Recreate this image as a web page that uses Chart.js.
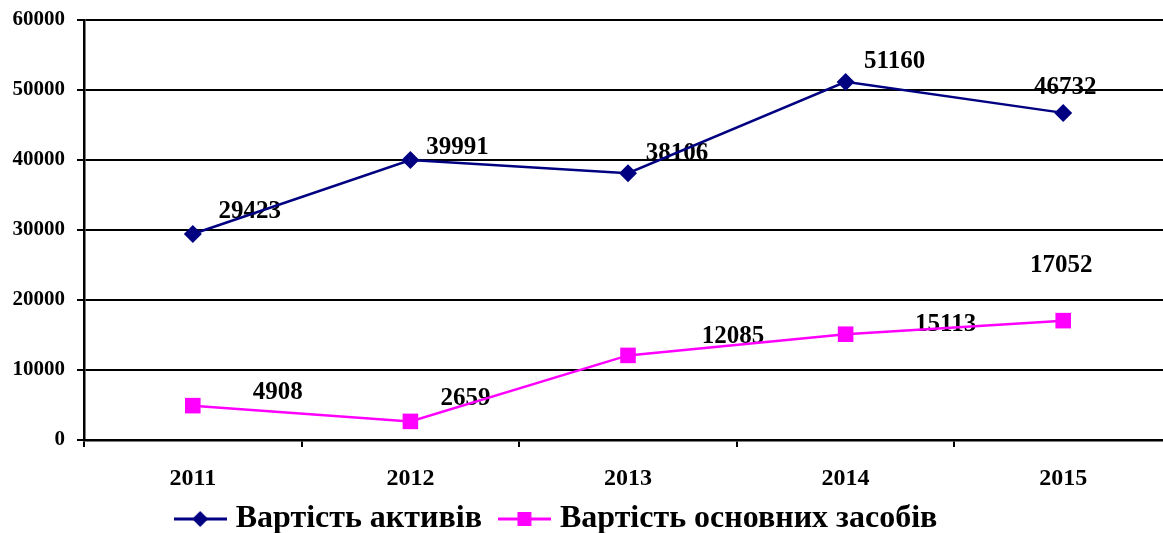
<!DOCTYPE html>
<html>
<head>
<meta charset="utf-8">
<title>Вартість активів</title>
<script src="https://cdn.jsdelivr.net/npm/chart.js@4.4.1/dist/chart.umd.min.js"></script>
<style>
  html, body { margin: 0; padding: 0; background: #fff; overflow: hidden; }
  #chart { display: block; }
</style>
</head>
<body>
<canvas id="chart" width="1183" height="533"></canvas>
<script>
// ---- data ----
const years = ['2011', '2012', '2013', '2014', '2015'];
const assetsValue = [29423, 39991, 38106, 51160, 46732];
const fixedAssetsValue = [4908, 2659, 12085, 15113, 17052];
const seriesNames = ['Вартість активів', 'Вартість основних засобів'];
const yMin = 0, yMax = 60000, yStep = 10000;

// ---- style ----
const NAVY = '#000080';
const PINK = '#ff00ff';
const FONT = '"Liberation Serif", "Times New Roman", serif';

// value labels are placed by hand in the original, so keep their nudges (px)
const labelShift = [
  [[57, -22], [47, -13], [49, -20], [49, -20], [2, -25]],
  [[85, -13], [55, -23], [105, -19], [100, -10], [-2, -55]]
];

// line + marker swatch for the legend
function legendMark(color, shape) {
  const c = document.createElement('canvas');
  c.width = 53; c.height = 26;
  const g = c.getContext('2d');
  g.strokeStyle = color;
  g.lineWidth = 3;
  g.beginPath(); g.moveTo(0, 13); g.lineTo(53, 13); g.stroke();
  g.fillStyle = color;
  g.beginPath();
  if (shape === 'diamond') {
    g.moveTo(26.5, 5); g.lineTo(34.5, 13); g.lineTo(26.5, 21); g.lineTo(18.5, 13); g.closePath();
  } else {
    g.rect(19.5, 6, 14, 14);
  }
  g.fill();
  return c;
}
const marks = [legendMark(NAVY, 'diamond'), legendMark(PINK, 'square')];

const pointLabels = {
  id: 'pointLabels',
  beforeDatasetsDraw(chart) {
    const ctx = chart.ctx;
    ctx.save();
    ctx.font = `bold 25px ${FONT}`;
    ctx.fillStyle = '#000';
    ctx.textAlign = 'center';
    ctx.textBaseline = 'middle';
    chart.data.datasets.forEach((ds, i) => {
      chart.getDatasetMeta(i).data.forEach((pt, j) => {
        const [dx, dy] = labelShift[i][j];
        ctx.fillText(String(ds.data[j]), pt.x + dx, pt.y + dy);
      });
    });
    ctx.restore();
  }
};

// legend sits a little left of centre in the original
const legendShift = {
  id: 'legendShift',
  afterLayout(chart) {
    const l = chart.legend;
    if (!l) return;
    l.left -= 31; l.right -= 31;
    l.top -= 5; l.bottom -= 5;
  }
};

new Chart(document.getElementById('chart'), {
  type: 'line',
  data: {
    labels: years,
    datasets: [{
      label: seriesNames[0],
      data: assetsValue,
      borderColor: NAVY,
      backgroundColor: NAVY,
      borderWidth: 2.5,
      pointStyle: 'rectRot',
      pointRadius: 9,
      pointBorderWidth: 0,
      tension: 0
    }, {
      label: seriesNames[1],
      data: fixedAssetsValue,
      borderColor: PINK,
      backgroundColor: PINK,
      borderWidth: 2.5,
      pointStyle: 'rect',
      pointRadius: 11,
      pointBorderWidth: 0,
      tension: 0
    }]
  },
  options: {
    responsive: false,
    animation: false,
    devicePixelRatio: 1,
    layout: { padding: { top: 20, left: 0, right: 3, bottom: -17 } },
    plugins: {
      tooltip: { enabled: false },
      legend: {
        position: 'bottom',
        labels: {
          usePointStyle: true,
          pointStyleWidth: 39,
          padding: 23,
          color: '#000',
          font: { family: FONT, size: 32, weight: 'bold' },
          generateLabels: chart => chart.data.datasets.map((ds, i) => ({
            text: ds.label,
            pointStyle: marks[i],
            fillStyle: ds.borderColor,
            strokeStyle: ds.borderColor,
            lineWidth: 0,
            hidden: false,
            datasetIndex: i,
            fontColor: '#000'
          }))
        }
      }
    },
    scales: {
      x: {
        offset: true,
        grid: { offset: true, drawOnChartArea: false, color: '#000', lineWidth: 2, tickLength: 7 },
        border: { color: '#000', width: 2.5 },
        ticks: {
          color: '#000',
          padding: 17,
          maxRotation: 0,
          font: { family: FONT, size: 24, weight: 'bold' }
        },
        afterFit(s) {
          s.height = 45;
          s.paddingLeft = 0; s.paddingRight = 0;
        }
      },
      y: {
        min: yMin,
        max: yMax,
        grid: { color: '#000', lineWidth: 2, tickLength: 7 },
        border: { color: '#000', width: 2.5 },
        ticks: {
          stepSize: yStep,
          color: '#000',
          padding: 12,
          font: { family: FONT, size: 21, weight: 'bold' },
          callback: v => String(v)
        },
        afterFit(s) {
          s.width = 84;
          s.paddingTop = 0; s.paddingBottom = 0;
        }
      }
    }
  },
  plugins: [pointLabels, legendShift]
});
</script>
</body>
</html>
